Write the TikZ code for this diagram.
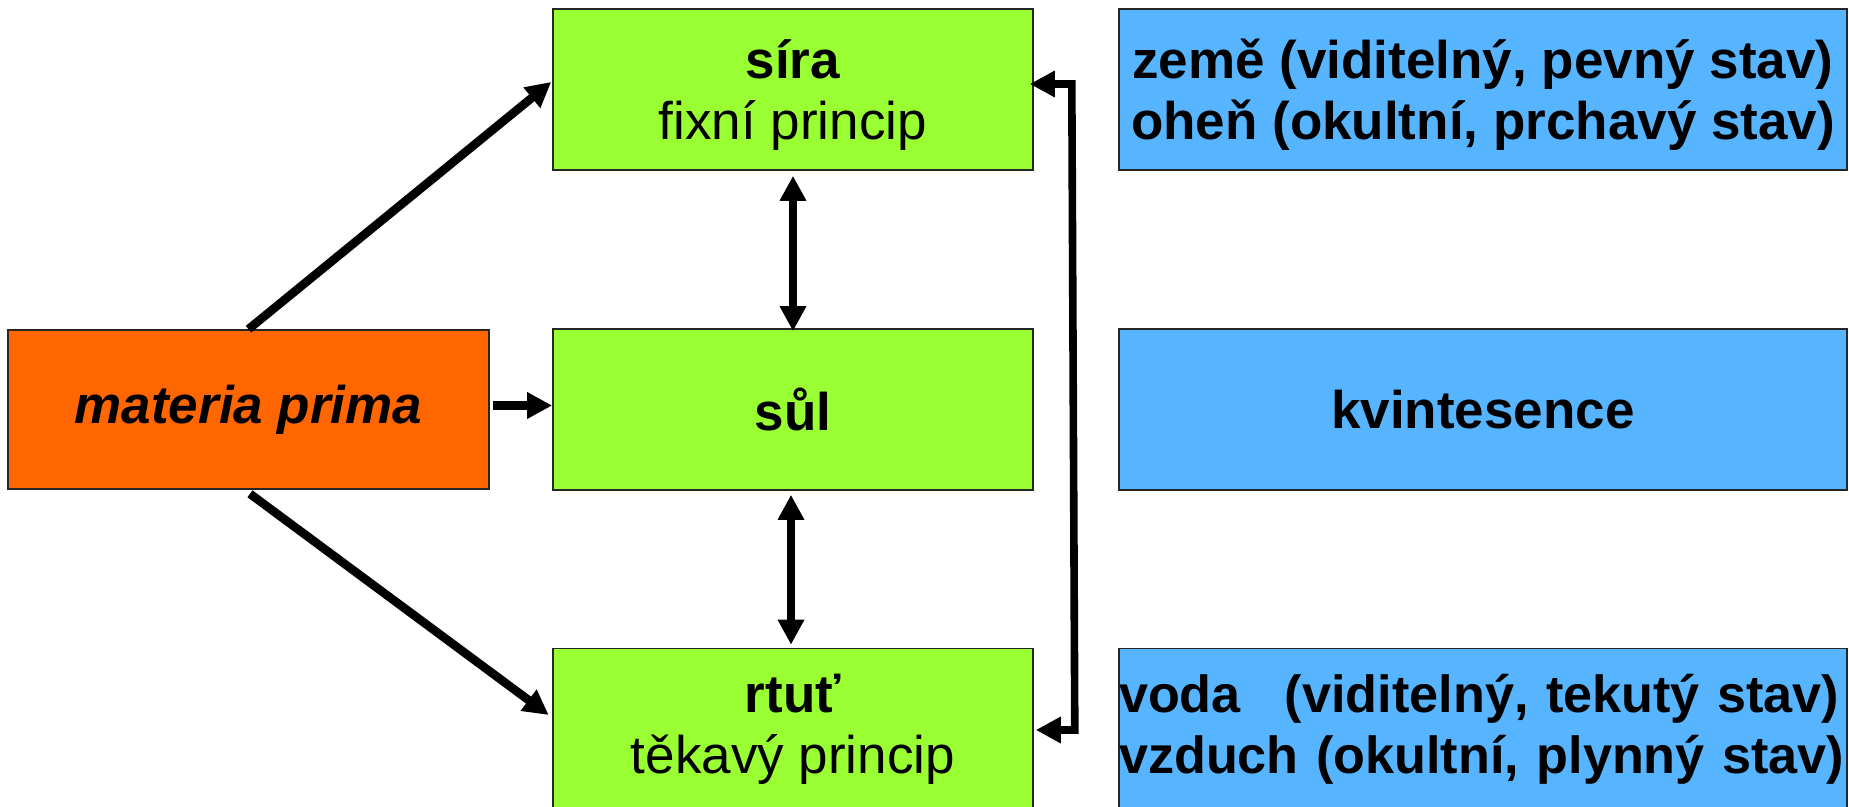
\documentclass[tikz,border=0pt]{standalone}
\usepackage{fontspec}
\setmainfont{Liberation Sans}
\usetikzlibrary{arrows.meta}
\definecolor{leaf}{RGB}{153,255,51}
\definecolor{flame}{RGB}{255,102,0}
\definecolor{sky}{RGB}{87,181,255}
\begin{document}
\begin{tikzpicture}[x=0.5pt,y=-0.5pt,
  box/.style={draw=black!85, line width=0.8pt, inner sep=0pt, align=center,
              font=\fontsize{26.5}{30.5}\selectfont},
  princ/.style={box, fill=leaf, minimum width=240pt, minimum height=80.5pt},
  state/.style={box, fill=sky, minimum width=364pt, minimum height=80.5pt,
                font=\fontsize{26.5}{30.5}\selectfont\bfseries},
  toprow/.style={text depth=0pt},
  flow/.style={line width=4.3pt, -{Triangle[length=12.5pt,width=12.5pt]}},
  both/.style={line width=4.3pt, {Triangle[length=12.5pt,width=12.5pt]}-{Triangle[length=12.5pt,width=12.5pt]}}
]
\useasboundingbox (0,0) rectangle (1849,807);

% principles
\node[box, fill=flame, minimum width=240.5pt, minimum height=79.5pt] (mat) at (248.5,409.5)
  {\textbf{\textit{materia prima}}};
\node[princ, toprow] (sira) at (793,89.5)  {\textbf{síra}\\fixní princip};
\node[princ] (sul)  at (793,409.5) {\textbf{sůl}};
\node[princ] (rtut) at (793,729)   {\textbf{rtuť}\\těkavý princip};

% elements and states
\node[state, toprow] (zeme) at (1483,89.5)
  {země (viditelný, pevný stav)\\oheň (okultní, prchavý stav)};
\node[state] (kvint) at (1483,409.5) {kvintesence};
\node[state, align=left, text width=364pt, font=\fontsize{26.1}{30.5}\selectfont\bfseries] (voda) at (1483,729)
  {\makebox[360pt][l]{voda\hfill(viditelný, tekutý stav)}\\
   \makebox[362pt][l]{vzduch (okultní, plynný stav)}};

% arrows from the prime matter
\draw[flow] (mat.north) -- ([xshift=-0.5pt,yshift=3.75pt]sira.west);
\draw[flow] ([xshift=1.5pt,yshift=2pt]mat.east) -- ([yshift=2pt]sul.west);
\draw[flow] ([xshift=0.75pt,yshift=-2pt]mat.south) -- ([xshift=-1.75pt,yshift=7pt]rtut.west);

% exchanges between the principles
\draw[both] ([yshift=-2.5pt]sira.south) -- ([yshift=-1.5pt]sul.north);
\draw[both] ([xshift=-1pt,yshift=-2pt]sul.south) -- ([xshift=-1pt,yshift=1.5pt]rtut.north);

% return bracket between sulphur and mercury
\coordinate (bkTop) at ([xshift=19pt,yshift=2.75pt]sira.east);
\coordinate (bkBot) at ([xshift=20.5pt,yshift=-0.5pt]rtut.east);
\draw[both, line width=3.8pt] ([xshift=1pt,yshift=-0.5pt]rtut.east) -- (bkBot) -- (bkTop)
  -- ([xshift=-2pt,yshift=2.75pt]sira.east);
\end{tikzpicture}
\end{document}
